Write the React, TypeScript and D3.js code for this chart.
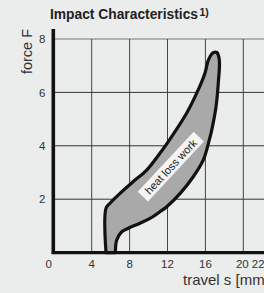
import { useEffect, useRef } from 'react';
import { select, scaleLinear, line, curveCatmullRom } from 'd3';

// force/travel readings of the hysteresis loop (travel mm, force F)
const loopTravel = [
  5.51, 5.51, 5.93, 6.99, 8.39, 9.8, 11.2, 12.05, 14.03, 15.08, 15.96, 16.31,
  16.83, 17.22, 17.47, 17.36, 17.12, 16.67, 16.41, 15.78, 14.72, 13.34, 11.92,
  11.2, 10.15, 9.1, 7.86, 7.17, 6.64, 6.5,
];
const loopForce = [
  0, 1.66, 1.85, 2.22, 2.66, 3.09, 3.72, 4.14, 5.23, 5.97, 6.73, 7.21, 7.49,
  7.49, 7.21, 6.35, 5.46, 4.59, 4.22, 3.47, 2.84, 2.22, 1.72, 1.53, 1.28, 1.1,
  0.91, 0.78, 0.47, 0,
];

const forceTicks = [2, 4, 6, 8];
const forceGrid = [2, 4, 6, 8];
const travelTicks = [0, 4, 8, 12, 16, 20, 22];
const travelGrid = [4, 8, 12, 16, 20];

const title = 'Impact Characteristics';
const titleNote = '1)';
const xTitle = 'travel s [mm]';
const yTitle = 'force F';
const areaLabel = 'heat loss work';
const areaLabelAt = { travel: 12.35, force: 3.22 };

const W = 264;
const H = 293;
const font = '"Liberation Sans", Arial, Helvetica, sans-serif';

const App = () => {
  const svgRef = useRef<SVGSVGElement>(null);

  useEffect(() => {
    if (!svgRef.current) return;
    const svg = select(svgRef.current);
    svg.selectAll('*').remove();

    const x = scaleLinear().domain([0, 22]).range([53.8, 262.25]);
    const y = scaleLinear().domain([0, 8]).range([252.6, 39]);

    svg
      .append('rect')
      .attr('width', W)
      .attr('height', H)
      .attr('fill', '#ebecec');

    // grid
    svg
      .append('g')
      .selectAll('line')
      .data(forceGrid)
      .join('line')
      .attr('x1', x(0))
      .attr('x2', W)
      .attr('y1', (d) => y(d))
      .attr('y2', (d) => y(d))
      .attr('stroke', (d) => (d === 8 ? '#777' : '#333'))
      .attr('stroke-width', 1);

    svg
      .append('g')
      .selectAll('line')
      .data(travelGrid)
      .join('line')
      .attr('x1', (d) => x(d))
      .attr('x2', (d) => x(d))
      .attr('y1', y(8))
      .attr('y2', y(0))
      .attr('stroke', '#444')
      .attr('stroke-width', 1);

    // loop
    const pts = loopTravel.map((t, i) => [t, loopForce[i]] as [number, number]);
    const path = line<[number, number]>()
      .x((d) => x(d[0]))
      .y((d) => y(d[1]))
      .curve(curveCatmullRom.alpha(0.5));

    svg
      .append('path')
      .attr('d', path(pts)! + 'Z')
      .attr('fill', '#a9a9aa')
      .attr('stroke', '#111')
      .attr('stroke-width', 3.2)
      .attr('stroke-linejoin', 'round');

    // area label
    const lab = svg
      .append('g')
      .attr(
        'transform',
        `translate(${x(areaLabelAt.travel)},${y(areaLabelAt.force)}) rotate(-47)`,
      );
    lab
      .append('rect')
      .attr('x', -41)
      .attr('y', -7)
      .attr('width', 82)
      .attr('height', 14)
      .attr('fill', '#f4f4f4');
    lab
      .append('text')
      .attr('text-anchor', 'middle')
      .attr('dy', '0.36em')
      .attr('font-size', 11)
      .attr('fill', '#222')
      .text(areaLabel);

    // axes
    svg
      .append('line')
      .attr('x1', x(0) - 2)
      .attr('x2', W)
      .attr('y1', y(0))
      .attr('y2', y(0))
      .attr('stroke', '#111')
      .attr('stroke-width', 3.4);
    svg
      .append('line')
      .attr('x1', x(0) - 0.5)
      .attr('x2', x(0) - 0.5)
      .attr('y1', y(0) + 1.5)
      .attr('y2', y(8.37))
      .attr('stroke', '#111')
      .attr('stroke-width', 3.6);

    // tick labels
    svg
      .append('g')
      .selectAll('text')
      .data(forceTicks)
      .join('text')
      .attr('x', 45.5)
      .attr('y', (d) => y(d))
      .attr('dy', '0.36em')
      .attr('text-anchor', 'end')
      .attr('font-size', 11.5)
      .attr('fill', '#333')
      .text((d) => d);

    svg
      .append('g')
      .selectAll('text')
      .data(travelTicks)
      .join('text')
      .attr('x', (d) =>
        d === 0 ? x(d) - 2 : d === 22 ? x(d) - 10.5 : d === 20 ? x(d) - 1 : x(d),
      )
      .attr('y', 268)
      .attr('text-anchor', (d) =>
        d === 0 ? 'end' : d === 22 ? 'start' : 'middle',
      )
      .attr('font-size', 11.5)
      .attr('fill', '#333')
      .text((d) => d);

    // titles (the x title runs off the right edge, as in the original)
    svg
      .append('text')
      .attr('x', 183)
      .attr('y', 285)
      .attr('font-size', 15)
      .attr('fill', '#333')
      .text(xTitle);

    svg
      .append('text')
      .attr('transform', `translate(32,51.5) rotate(-90)`)
      .attr('text-anchor', 'middle')
      .attr('font-size', 14.5)
      .attr('fill', '#333')
      .text(yTitle);

    const t = svg
      .append('text')
      .attr('x', 50)
      .attr('y', 19)
      .attr('font-size', 13.8)
      .attr('font-weight', 'bold')
      .attr('fill', '#222')
      .text(title);
    t.append('tspan')
      .attr('dx', 1.5)
      .attr('dy', -3.5)
      .attr('font-size', 10.5)
      .text(titleNote);
  }, []);

  return (
    <svg
      ref={svgRef}
      width={W}
      height={H}
      style={{ position: 'absolute', left: 0, top: 0, fontFamily: font }}
    />
  );
};

export default App;
